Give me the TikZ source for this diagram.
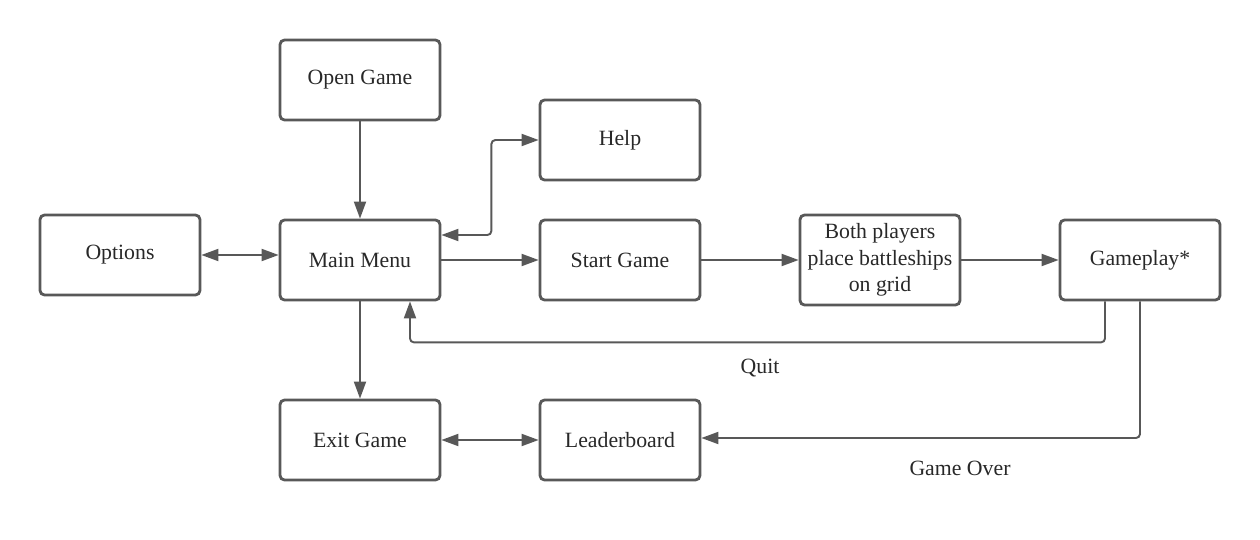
\documentclass[tikz,border=0pt]{standalone}
\usepackage{fontspec}
\setmainfont{Liberation Serif}
\usetikzlibrary{arrows.meta}
\definecolor{ln}{RGB}{88,88,88}
\definecolor{tx}{RGB}{40,40,40}

\begin{document}
\begin{tikzpicture}[x=0.02cm,y=-0.02cm,>={Triangle[length=0.34cm,width=0.24cm]}]
			\tikzstyle{box}=[rectangle, draw=ln, line width=1.6pt, rounded corners=0.09cm, minimum width=3.2cm, minimum height=1.6cm, text=tx, align=center, font=\fontsize{12.4}{15}\selectfont]
			\tikzstyle{lab}=[text=tx, font=\fontsize{12.4}{15}\selectfont]
			\tikzstyle{a}=[draw=ln, line width=1.1pt, rounded corners=0.08cm]

			\useasboundingbox (0,0) rectangle (1260,540);

			\node[box] (open) at (360,80) {Open Game};
			\node[box] (help) at (620,140) {Help};
			\node[box] (options) at (120,255) {Options};
			\node[box] (main) at (360,260) {Main Menu};
			\node[box] (start) at (620,260) {Start Game};
			\node[box,minimum height=1.8cm] (place) at (880,260) {Both players\\place battleships\\on grid};
			\node[box] (play) at (1140,260) {Gameplay*};
			\node[box] (exit) at (360,440) {Exit Game};
			\node[box] (board) at (620,440) {Leaderboard};
			\node[lab] (quit) at (760,368) {Quit};
			\node[lab] (over) at (960,468) {Game Over};

			\foreach \from/\to in {open/main,main/start,start/place,place/play,main/exit}
			\draw [a,->] (\from) -- (\to);
			\draw [a,<->] (options.east) -- (main.west |- options.east);
			\draw [a,<->] (exit) -- (board);
			\draw [a,<->] ([yshift=0.5cm]main.east) -- ++(50,0) |- (help.west);
			\draw [a,->] ([xshift=-0.7cm]play.south) -- ++(0,41) -| ([xshift=1cm]main.south);
			\draw [a,->] (play.south) |- ([yshift=0.04cm]board.east);
		\end{tikzpicture}
\end{document}
